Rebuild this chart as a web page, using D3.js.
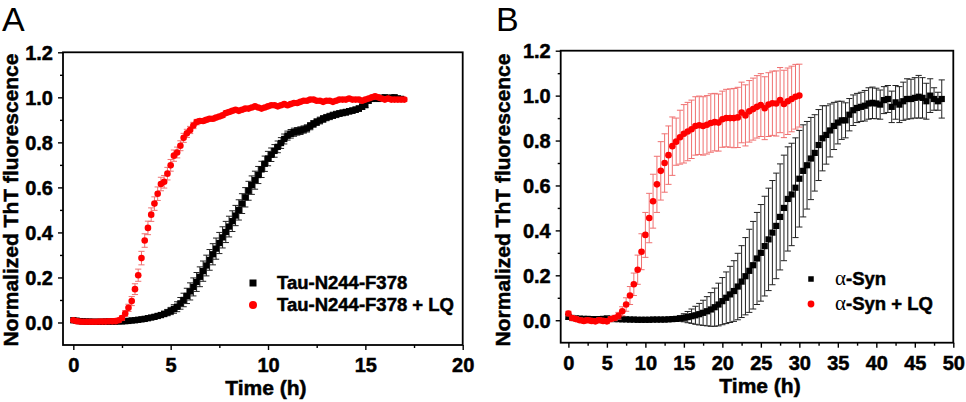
<!DOCTYPE html>
<html><head><meta charset="utf-8">
<script src="https://cdn.jsdelivr.net/npm/d3@7"></script>
<style>body{margin:0;background:#fff}svg{display:block}text{font-family:"Liberation Sans",Arial,sans-serif}
text.heavy{stroke:#000;stroke-width:0.5px}</style>
</head><body>
<svg id="chart" width="966" height="402"></svg>
<script>
// ---------- DATA ----------
// Panel A: sampling interval 10 min (1/6 h)
const tauInterval = 1 / 6;
const tauValues = [0.010,0.008,0.006,0.005,0.004,0.004,0.003,0.003,0.003,0.003,0.004,0.004,0.004,0.004,0.005,0.005,0.006,0.007,0.009,0.010,
0.012,0.014,0.016,0.019,0.022,0.025,0.029,0.033,0.038,0.044,0.051,0.060,0.070,0.085,0.100,0.118,0.138,0.158,0.180,0.203,
0.228,0.253,0.278,0.303,0.328,0.353,0.378,0.402,0.426,0.450,0.475,0.500,0.528,0.556,0.585,0.610,0.632,0.655,0.680,0.705,
0.728,0.745,0.762,0.780,0.797,0.815,0.830,0.838,0.845,0.849,0.852,0.857,0.862,0.872,0.882,0.890,0.897,0.904,0.910,0.915,
0.920,0.924,0.928,0.931,0.934,0.938,0.941,0.945,0.950,0.958,0.966,0.985,0.993,0.995,0.993,0.998,1.000,0.996,0.999,1.000,
0.995,0.993];
const tauErrors = [0.008,0.006,0.005,0.004,0.004,0.004,0.004,0.004,0.004,0.004,0.004,0.004,0.004,0.004,0.005,0.005,0.005,0.005,0.006,0.006,
0.006,0.007,0.007,0.008,0.008,0.009,0.010,0.011,0.012,0.014,0.016,0.019,0.022,0.026,0.030,0.034,0.038,0.040,0.042,0.044,
0.045,0.046,0.046,0.047,0.047,0.047,0.047,0.047,0.046,0.046,0.045,0.045,0.044,0.043,0.042,0.041,0.040,0.038,0.036,0.034,
0.032,0.030,0.028,0.026,0.024,0.022,0.020,0.019,0.018,0.017,0.017,0.016,0.016,0.016,0.015,0.015,0.015,0.015,0.014,0.014,
0.014,0.014,0.013,0.013,0.013,0.012,0.012,0.012,0.012,0.012,0.012,0.011,0.010,0.010,0.010,0.010,0.010,0.010,0.010,0.010,
0.010,0.010];
const tauLQValues = [0.010,0.006,0.004,0.003,0.003,0.003,0.003,0.003,0.004,0.004,0.004,0.005,0.005,0.006,0.010,0.020,0.040,0.065,0.095,0.148,
0.210,0.286,0.364,0.420,0.479,0.528,0.572,0.615,0.625,0.661,0.698,0.741,0.755,0.785,0.820,0.840,0.855,0.875,0.890,0.895,
0.895,0.900,0.905,0.905,0.910,0.915,0.920,0.930,0.935,0.940,0.945,0.940,0.945,0.950,0.950,0.955,0.960,0.955,0.950,0.955,
0.960,0.965,0.965,0.960,0.965,0.970,0.965,0.970,0.975,0.975,0.980,0.985,0.985,0.990,0.990,0.985,0.985,0.980,0.985,0.985,
0.980,0.985,0.990,0.990,0.990,0.995,0.990,0.990,0.990,0.985,0.990,0.995,1.000,1.005,1.000,0.995,0.990,0.995,0.990,0.990,
0.990,0.990,0.990];
const tauLQErrors = [0.006,0.005,0.005,0.005,0.005,0.005,0.005,0.005,0.005,0.005,0.005,0.005,0.005,0.005,0.008,0.010,0.013,0.016,0.020,0.024,
0.027,0.030,0.030,0.030,0.030,0.030,0.030,0.030,0.028,0.028,0.026,0.025,0.024,0.022,0.020,0.018,0.016,0.014,0.012,0.011,
0.010,0.010,0.010,0.010,0.009,0.009,0.009,0.009,0.009,0.009,0.009,0.008,0.008,0.008,0.008,0.008,0.008,0.008,0.008,0.008,
0.008,0.008,0.008,0.008,0.008,0.008,0.008,0.008,0.008,0.008,0.008,0.008,0.008,0.008,0.008,0.008,0.008,0.008,0.008,0.008,
0.008,0.008,0.008,0.008,0.008,0.008,0.008,0.008,0.008,0.008,0.008,0.008,0.008,0.008,0.008,0.008,0.008,0.008,0.008,0.008,
0.008,0.008,0.008];

// Panel B: sampling interval 30 min (0.5 h)
const synInterval = 0.5;
const synValues = [0.015,0.010,0.008,0.007,0.006,0.006,0.005,0.005,0.005,0.006,0.008,0.006,0.005,0.005,0.004,0.004,0.003,0.003,0.002,0.002,
0.002,0.002,0.003,0.003,0.003,0.003,0.004,0.005,0.006,0.008,0.011,0.014,0.018,0.022,0.027,0.033,0.040,0.048,0.058,0.070,
0.085,0.100,0.115,0.130,0.150,0.172,0.196,0.220,0.245,0.275,0.300,0.330,0.360,0.390,0.420,0.460,0.500,0.540,0.560,0.590,
0.630,0.665,0.690,0.720,0.745,0.780,0.810,0.825,0.845,0.865,0.880,0.890,0.890,0.915,0.935,0.945,0.950,0.955,0.965,0.968,
0.965,0.960,0.980,0.985,0.950,0.970,0.960,0.975,0.985,0.985,0.990,0.995,0.990,0.975,1.000,0.985,0.975,0.985];
const synErrors = [0.010,0.009,0.008,0.008,0.007,0.007,0.007,0.006,0.006,0.006,0.006,0.006,0.006,0.005,0.005,0.005,0.005,0.005,0.005,0.005,
0.005,0.005,0.005,0.005,0.005,0.005,0.005,0.005,0.008,0.012,0.018,0.025,0.032,0.040,0.048,0.056,0.065,0.075,0.085,0.095,
0.105,0.115,0.125,0.135,0.148,0.160,0.172,0.185,0.195,0.205,0.215,0.222,0.228,0.232,0.235,0.236,0.235,0.232,0.228,0.222,
0.215,0.205,0.195,0.183,0.170,0.158,0.145,0.130,0.118,0.105,0.095,0.085,0.078,0.072,0.068,0.065,0.065,0.068,0.070,0.070,
0.068,0.065,0.060,0.060,0.070,0.075,0.080,0.085,0.090,0.088,0.090,0.095,0.090,0.080,0.075,0.050,0.040,0.085];
const synLQValues = [0.030,0.010,0.005,0.000,-0.003,0.000,-0.003,-0.005,0.000,-0.003,-0.005,0.005,0.010,0.020,0.040,0.070,0.110,0.160,0.225,0.305,
0.380,0.455,0.530,0.605,0.665,0.700,0.735,0.775,0.795,0.815,0.830,0.840,0.850,0.865,0.868,0.865,0.870,0.878,0.882,0.880,
0.895,0.900,0.900,0.900,0.903,0.925,0.912,0.930,0.940,0.950,0.958,0.944,0.960,0.966,0.965,0.980,0.963,0.975,0.985,0.995,
1.000];
const synLQErrors = [0.010,0.010,0.010,0.010,0.010,0.010,0.010,0.010,0.010,0.010,0.010,0.010,0.012,0.015,0.020,0.030,0.040,0.050,0.065,0.080,
0.100,0.110,0.120,0.125,0.130,0.130,0.130,0.130,0.105,0.120,0.130,0.130,0.130,0.130,0.130,0.130,0.130,0.130,0.128,0.127,
0.125,0.128,0.130,0.132,0.134,0.135,0.136,0.137,0.138,0.139,0.140,0.140,0.142,0.143,0.145,0.145,0.150,0.148,0.146,0.144,
0.140];

const yTicks = [0.0, 0.2, 0.4, 0.6, 0.8, 1.0, 1.2];
const xTicksA = [0, 5, 10, 15, 20];
const xTicksB = [0, 5, 10, 15, 20, 25, 30, 35, 40, 45, 50];

const panels = [
  { letter: "A", letterX: 2, frame: { l: 63, r: 462.7, t: 52.3, b: 345 }, xDomain: [-0.53, 20], xTicks: xTicksA, xMinorStep: 2.5,
    yTitleX: 17.5, sq: 6.3, legend: { x: 253, y1: 283, y2: 305, tx: 277, sq: 7, r: 4 },
    series: [
      { values: tauValues, errors: tauErrors, step: tauInterval, type: "square", label: ["", "Tau-N244-F378"] },
      { values: tauLQValues, errors: tauLQErrors, step: tauInterval, type: "circle", label: ["", "Tau-N244-F378 + LQ"] }
    ] },
  { letter: "B", letterX: 496, frame: { l: 560.7, r: 953.3, t: 50.7, b: 342.7 }, xDomain: [-1, 50], xTicks: xTicksB, xMinorStep: 2.5,
    yTitleX: 510, sq: 6.2, legend: { x: 811, y1: 279, y2: 304, tx: 835, sq: 5.5, r: 3.4 },
    series: [
      { values: synValues, errors: synErrors, step: synInterval, type: "square", label: ["α", "-Syn"] },
      { values: synLQValues, errors: synLQErrors, step: synInterval, type: "circle", label: ["α", "-Syn + LQ"] }
    ] }
];

const svg = d3.select("#chart");
const RED = "#ff0000", RED_ERR = "#f07070", BLK = "#000000", BLK_ERR = "#222222";

panels.forEach(p => {
  const f = p.frame;
  const x = d3.scaleLinear().domain(p.xDomain).range([f.l, f.r]);
  const y = d3.scaleLinear().domain([-0.1, 1.2]).range([f.b, f.t]);
  const g = svg.append("g");

  // panel letter
  g.append("text").attr("x", p.letterX).attr("y", 30.5).attr("font-size", 34).attr("font-weight", "normal").text(p.letter);

  // data
  const clip = "clip" + p.letter;
  svg.append("clipPath").attr("id", clip).append("rect").attr("x", f.l).attr("y", f.t).attr("width", f.r - f.l).attr("height", f.b - f.t);
  const dg = g.append("g").attr("clip-path", `url(#${clip})`);
  p.series.forEach(s => {
    const pts = s.values.map((v, i) => ({ t: i * s.step, v, e: s.errors[i] }));
    const isC = s.type === "circle";
    const ec = isC ? RED_ERR : BLK_ERR;
    const cap = 3.1;
    const eg = dg.append("g").attr("stroke", ec).attr("stroke-width", 1).attr("fill", "none");
    pts.forEach(d => {
      const px = x(d.t), y1 = y(d.v - d.e), y2 = y(d.v + d.e);
      eg.append("line").attr("x1", px).attr("x2", px).attr("y1", y1).attr("y2", y2);
      eg.append("line").attr("x1", px - cap).attr("x2", px + cap).attr("y1", y1).attr("y2", y1);
      eg.append("line").attr("x1", px - cap).attr("x2", px + cap).attr("y1", y2).attr("y2", y2);
    });
    if (isC) {
      dg.append("g").selectAll("circle").data(pts).join("circle")
        .attr("cx", d => x(d.t)).attr("cy", d => y(d.v)).attr("r", 3.3).attr("fill", RED);
    } else {
      const sz = p.sq;
      dg.append("g").selectAll("rect").data(pts).join("rect")
        .attr("x", d => x(d.t) - sz / 2).attr("y", d => y(d.v) - sz / 2).attr("width", sz).attr("height", sz).attr("fill", BLK);
    }
  });

  // axes
  const xAxis = d3.axisBottom(x).tickValues(p.xTicks).tickSize(5).tickFormat(d3.format("d"));
  const xMinor = d3.range(p.xMinorStep, p.xDomain[1], 5).filter(v => v > p.xDomain[0]);
  const yAxis = d3.axisLeft(y).tickValues(yTicks).tickSize(5).tickFormat(d3.format(".1f"));
  const yMinor = [0.1, 0.3, 0.5, 0.7, 0.9, 1.1];

  const ax = g.append("g").attr("transform", `translate(0,${f.b})`).call(xAxis);
  ax.select(".domain").remove();
  ax.selectAll(".tick line").attr("stroke", "#000").attr("stroke-width", 1.4);
  ax.selectAll(".tick text").attr("class", "heavy").attr("font-size", 20).attr("font-weight", "bold").attr("fill", "#000").attr("dy", null).attr("y", 27);
  g.append("g").attr("transform", `translate(0,${f.b})`).call(d3.axisBottom(x).tickValues(xMinor).tickSize(3).tickFormat(""))
    .call(s => { s.select(".domain").remove(); s.selectAll(".tick line").attr("stroke", "#000").attr("stroke-width", 1.4); });

  const ay = g.append("g").attr("transform", `translate(${f.l},0)`).call(yAxis);
  ay.select(".domain").remove();
  ay.selectAll(".tick line").attr("stroke", "#000").attr("stroke-width", 1.4);
  ay.selectAll(".tick text").attr("class", "heavy").attr("font-size", 20).attr("font-weight", "bold").attr("fill", "#000").attr("x", -10).attr("dy", "0.36em");
  g.append("g").attr("transform", `translate(${f.l},0)`).call(d3.axisLeft(y).tickValues(yMinor).tickSize(3).tickFormat(""))
    .call(s => { s.select(".domain").remove(); s.selectAll(".tick line").attr("stroke", "#000").attr("stroke-width", 1.4); });

  // frame
  g.append("rect").attr("x", f.l).attr("y", f.t).attr("width", f.r - f.l).attr("height", f.b - f.t)
    .attr("fill", "none").attr("stroke", "#000").attr("stroke-width", 1.8);

  // titles
  g.append("text").attr("class", "heavy").attr("x", (f.l + f.r) / 2 + 3).attr("y", f.b + 50).attr("text-anchor", "middle")
    .attr("font-size", 21).attr("font-weight", "bold").text("Time (h)");
  g.append("text").attr("class", "heavy").attr("transform", `translate(${p.yTitleX},200) rotate(-90)`).attr("text-anchor", "middle")
    .attr("font-size", 21).attr("font-weight", "bold").text("Normalized ThT fluorescence");

  // legend
  const L = p.legend;
  g.append("rect").attr("x", L.x - L.sq / 2).attr("y", L.y1 - L.sq / 2).attr("width", L.sq).attr("height", L.sq).attr("fill", BLK);
  g.append("circle").attr("cx", L.x).attr("cy", L.y2).attr("r", L.r).attr("fill", RED);
  [[p.series[0].label, L.y1], [p.series[1].label, L.y2]].forEach(([lab, yy]) => {
    const t = g.append("text").attr("class", "heavy").attr("x", L.tx).attr("y", yy + 6).attr("font-size", 18.5).attr("font-weight", "bold");
    if (lab[0]) t.append("tspan").attr("font-family", "'Liberation Serif','DejaVu Serif',serif").attr("font-weight", "normal")
      .attr("stroke-width", 0).attr("font-size", 21).text(lab[0]);
    t.append("tspan").text(lab[1]);
  });
});
</script>
</body></html>
